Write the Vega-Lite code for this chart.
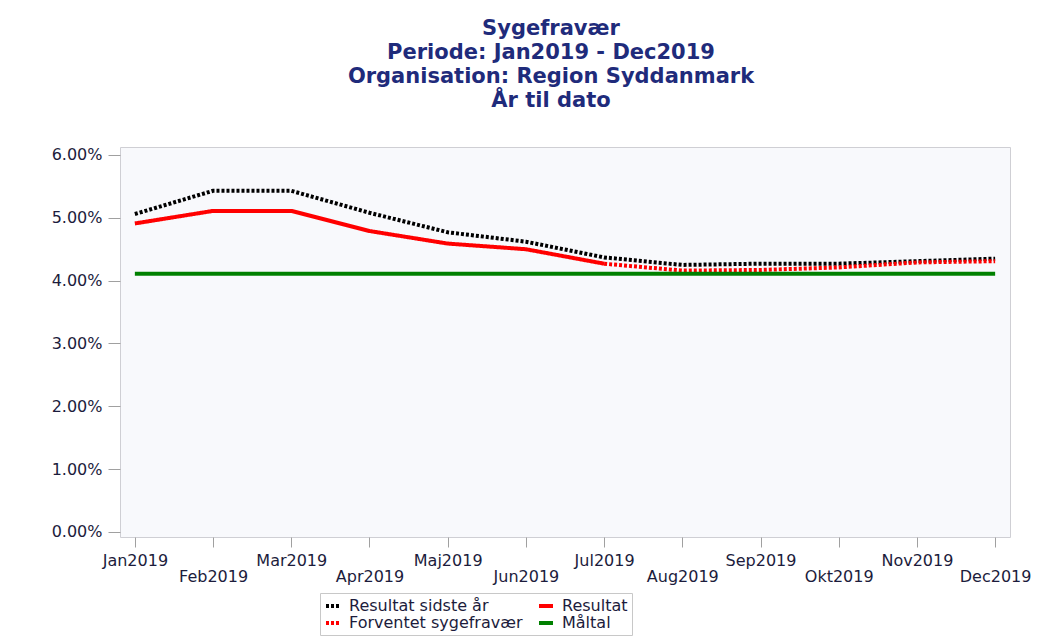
{
  "$schema": "https://vega.github.io/schema/vega-lite/v6.json",
  "width": 890,
  "height": 390,
  "autosize": "none",
  "padding": {"left": 120, "top": 147, "right": 33, "bottom": 100},
  "background": "white",
  "title": {
    "text": ["Sygefravær", "Periode: Jan2019 - Dec2019", "Organisation: Region Syddanmark", "År til dato"],
    "font": "DejaVu Sans",
    "fontSize": 21,
    "fontWeight": "bold",
    "color": "#1f2b7b",
    "lineHeight": 24,
    "anchor": "middle",
    "dx": -14,
    "offset": 36
  },
  "config": {"view": {"fill": "#f8f9fc", "stroke": "#cfcfd4"}},
  "data": {
    "values": [
      {"month": "Jan2019", "series": "Resultat sidste år", "value": 0.0506},
      {"month": "Feb2019", "series": "Resultat sidste år", "value": 0.0543},
      {"month": "Mar2019", "series": "Resultat sidste år", "value": 0.0543},
      {"month": "Apr2019", "series": "Resultat sidste år", "value": 0.0508},
      {"month": "Maj2019", "series": "Resultat sidste år", "value": 0.0477},
      {"month": "Jun2019", "series": "Resultat sidste år", "value": 0.0462},
      {"month": "Jul2019", "series": "Resultat sidste år", "value": 0.0437},
      {"month": "Aug2019", "series": "Resultat sidste år", "value": 0.0425},
      {"month": "Sep2019", "series": "Resultat sidste år", "value": 0.0427},
      {"month": "Okt2019", "series": "Resultat sidste år", "value": 0.0427},
      {"month": "Nov2019", "series": "Resultat sidste år", "value": 0.0431},
      {"month": "Dec2019", "series": "Resultat sidste år", "value": 0.0435},
      {"month": "Jan2019", "series": "Resultat", "value": 0.0491},
      {"month": "Feb2019", "series": "Resultat", "value": 0.0511},
      {"month": "Mar2019", "series": "Resultat", "value": 0.0511},
      {"month": "Apr2019", "series": "Resultat", "value": 0.0479},
      {"month": "Maj2019", "series": "Resultat", "value": 0.0459},
      {"month": "Jun2019", "series": "Resultat", "value": 0.0450},
      {"month": "Jul2019", "series": "Resultat", "value": 0.0427},
      {"month": "Jul2019", "series": "Forventet sygefravær", "value": 0.0427},
      {"month": "Aug2019", "series": "Forventet sygefravær", "value": 0.0416},
      {"month": "Sep2019", "series": "Forventet sygefravær", "value": 0.0417},
      {"month": "Okt2019", "series": "Forventet sygefravær", "value": 0.0421},
      {"month": "Nov2019", "series": "Forventet sygefravær", "value": 0.0429},
      {"month": "Dec2019", "series": "Forventet sygefravær", "value": 0.0431},
      {"month": "Jan2019", "series": "Måltal", "value": 0.0411},
      {"month": "Feb2019", "series": "Måltal", "value": 0.0411},
      {"month": "Mar2019", "series": "Måltal", "value": 0.0411},
      {"month": "Apr2019", "series": "Måltal", "value": 0.0411},
      {"month": "Maj2019", "series": "Måltal", "value": 0.0411},
      {"month": "Jun2019", "series": "Måltal", "value": 0.0411},
      {"month": "Jul2019", "series": "Måltal", "value": 0.0411},
      {"month": "Aug2019", "series": "Måltal", "value": 0.0411},
      {"month": "Sep2019", "series": "Måltal", "value": 0.0411},
      {"month": "Okt2019", "series": "Måltal", "value": 0.0411},
      {"month": "Nov2019", "series": "Måltal", "value": 0.0411},
      {"month": "Dec2019", "series": "Måltal", "value": 0.0411}
    ]
  },
  "mark": {"type": "line", "strokeWidth": 4, "strokeCap": "butt"},
  "encoding": {
    "x": {
      "field": "month",
      "type": "ordinal",
      "sort": ["Jan2019", "Feb2019", "Mar2019", "Apr2019", "Maj2019", "Jun2019", "Jul2019", "Aug2019", "Sep2019", "Okt2019", "Nov2019", "Dec2019"],
      "scale": {"type": "point", "padding": 0.19},
      "axis": {
        "title": null,
        "labelAngle": 0,
        "grid": false,
        "domain": false,
        "tickSize": 10,
        "tickColor": "#a0a0a0",
        "labelFont": "DejaVu Sans",
        "labelFontSize": 16,
        "labelColor": "#1c1c3c",
        "labelBaseline": "top",
        "labelOverlap": false,
        "labelPadding": {"condition": {"test": "indexof(['Feb2019','Apr2019','Jun2019','Aug2019','Okt2019','Dec2019'], datum.value) >= 0", "value": 21}, "value": 5}
      }
    },
    "y": {
      "field": "value",
      "type": "quantitative",
      "scale": {"domain": [-0.0008, 0.06127], "nice": false, "zero": false},
      "axis": {
        "title": null,
        "values": [0, 0.01, 0.02, 0.03, 0.04, 0.05, 0.06],
        "format": ".2%",
        "grid": false,
        "domain": false,
        "tickSize": 12,
        "tickColor": "#a0a0a0",
        "labelFont": "DejaVu Sans",
        "labelFontSize": 16,
        "labelColor": "#1c1c3c",
        "labelPadding": 6
      }
    },
    "color": {
      "field": "series",
      "type": "nominal",
      "scale": {
        "domain": ["Resultat sidste år", "Resultat", "Forventet sygefravær", "Måltal"],
        "range": ["#000000", "#ff0000", "#ff0000", "#008000"]
      },
      "legend": {
        "title": null, "orient": "none", "legendX": 200, "legendY": 446, "columns": 2, "direction": "horizontal",
        "symbolType": "stroke", "symbolStrokeWidth": 4, "symbolSize": 196,
        "labelFont": "DejaVu Sans", "labelFontSize": 16, "labelColor": "#1c1c3c",
        "strokeColor": "#c8c8c8", "fillColor": "white", "padding": 4,
        "rowPadding": 0, "columnPadding": 8, "labelOffset": 7, "labelLimit": 300
      }
    },
    "strokeDash": {
      "field": "series",
      "type": "nominal",
      "scale": {
        "domain": ["Resultat sidste år", "Resultat", "Forventet sygefravær", "Måltal"],
        "range": [[3, 2], [1, 0], [3, 2], [1, 0]]
      },
      "legend": {
        "title": null, "orient": "none", "legendX": 200, "legendY": 446, "columns": 2, "direction": "horizontal",
        "symbolType": "stroke", "symbolStrokeWidth": 4, "symbolSize": 196,
        "labelFont": "DejaVu Sans", "labelFontSize": 16, "labelColor": "#1c1c3c",
        "strokeColor": "#c8c8c8", "fillColor": "white", "padding": 4,
        "rowPadding": 0, "columnPadding": 8, "labelOffset": 7, "labelLimit": 300
      }
    }
  }
}
